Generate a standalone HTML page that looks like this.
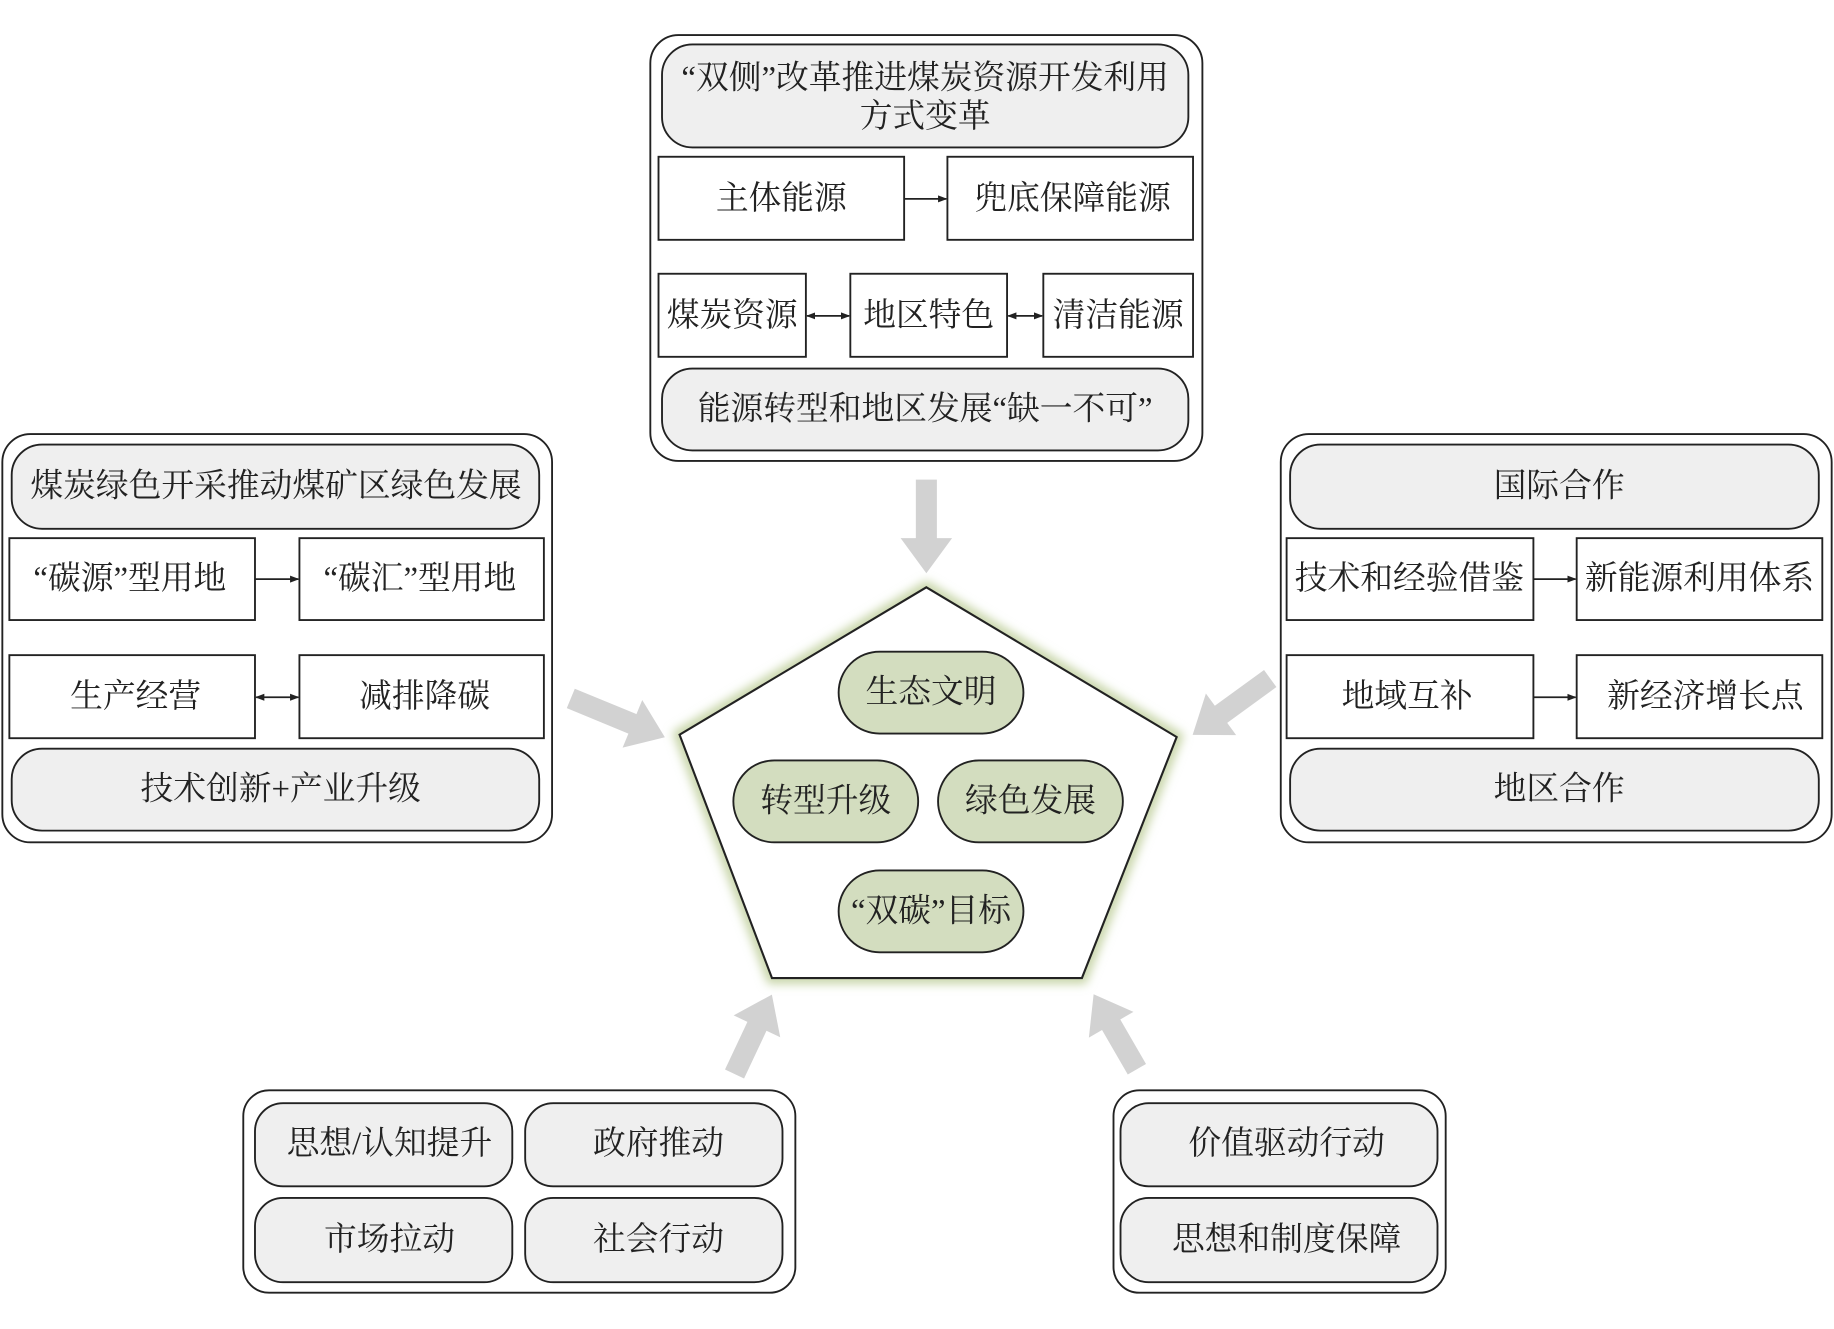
<!DOCTYPE html>
<html><head><meta charset="utf-8"><style>
html,body{margin:0;padding:0;background:#fff;}
svg{display:block;}
text{font-family:"Liberation Serif","Noto Serif CJK SC",serif;font-size:28px;fill:#222;text-anchor:middle;dominant-baseline:central;}
.o{fill:#fff;stroke:#222;stroke-width:1.6;}
.p{fill:#efefef;stroke:#222;stroke-width:1.6;}
.r{fill:#fff;stroke:#222;stroke-width:1.6;}
.g{fill:#d3ddbf;stroke:#222;stroke-width:1.6;}
.ar{fill:#d2d2d2;}
.ln{stroke:#222;stroke-width:1.5;fill:none;}
</style></head><body>
<svg width="1834" height="1329" viewBox="0 0 1568 1136" preserveAspectRatio="none" xmlns="http://www.w3.org/2000/svg">
<defs>
<marker id="ah" markerWidth="8" markerHeight="8" refX="7" refY="4" orient="auto" markerUnits="userSpaceOnUse"><path d="M0,1 L8,4 L0,7 Z" fill="#222"/></marker>
<marker id="at" markerWidth="8" markerHeight="8" refX="1" refY="4" orient="auto" markerUnits="userSpaceOnUse"><path d="M8,1 L0,4 L8,7 Z" fill="#222"/></marker>
<filter id="gl" x="-20%" y="-20%" width="140%" height="140%"><feGaussianBlur stdDeviation="4"/></filter>
</defs>

<!-- Top group -->
<rect class="o" x="556" y="30" width="472" height="364" rx="24"/>
<rect class="p" x="566" y="38" width="450" height="88" rx="26"/>
<text x="791" y="67">“双侧”改革推进煤炭资源开发利用</text>
<text x="791" y="100">方式变革</text>
<rect class="r" x="563" y="134" width="210" height="71"/><text x="668" y="170">主体能源</text>
<rect class="r" x="810" y="134" width="210" height="71"/><text x="917" y="170">兜底保障能源</text>
<line class="ln" x1="773" y1="170" x2="809" y2="170" marker-end="url(#ah)"/>
<rect class="r" x="563" y="234" width="126" height="71"/><text x="626" y="270">煤炭资源</text>
<rect class="r" x="727" y="234" width="134" height="71"/><text x="794" y="270">地区特色</text>
<rect class="r" x="892" y="234" width="128" height="71"/><text x="956" y="270">清洁能源</text>
<line class="ln" x1="690" y1="270" x2="726" y2="270" marker-end="url(#ah)" marker-start="url(#at)"/>
<line class="ln" x1="862" y1="270" x2="891" y2="270" marker-end="url(#ah)" marker-start="url(#at)"/>
<rect class="p" x="566" y="315" width="450" height="70" rx="26"/><text x="791" y="350">能源转型和地区发展“缺一不可”</text>

<!-- Left group -->
<rect class="o" x="2" y="371" width="470" height="349" rx="24"/>
<rect class="p" x="10" y="380" width="451" height="72" rx="26"/><text x="236" y="416">煤炭绿色开采推动煤矿区绿色发展</text>
<rect class="r" x="8" y="460" width="210" height="70"/><text x="111" y="495">“碳源”型用地</text>
<rect class="r" x="256" y="460" width="209" height="70"/><text x="359" y="495">“碳汇”型用地</text>
<line class="ln" x1="218" y1="495" x2="255" y2="495" marker-end="url(#ah)"/>
<rect class="r" x="8" y="560" width="210" height="71"/><text x="116" y="596">生产经营</text>
<rect class="r" x="256" y="560" width="209" height="71"/><text x="363" y="596">减排降碳</text>
<line class="ln" x1="219" y1="596" x2="255" y2="596" marker-end="url(#ah)" marker-start="url(#at)"/>
<rect class="p" x="10" y="640" width="451" height="70" rx="26"/><text x="240" y="675">技术创新+产业升级</text>

<!-- Right group -->
<rect class="o" x="1095" y="371" width="471" height="349" rx="24"/>
<rect class="p" x="1103" y="380" width="452" height="72" rx="26"/><text x="1333" y="416">国际合作</text>
<rect class="r" x="1100" y="460" width="211" height="70"/><text x="1205" y="495">技术和经验借鉴</text>
<rect class="r" x="1348" y="460" width="210" height="70"/><text x="1453" y="495">新能源利用体系</text>
<line class="ln" x1="1311" y1="495" x2="1347" y2="495" marker-end="url(#ah)"/>
<rect class="r" x="1100" y="560" width="211" height="71"/><text x="1203" y="596">地域互补</text>
<rect class="r" x="1348" y="560" width="210" height="71"/><text x="1458" y="596">新经济增长点</text>
<line class="ln" x1="1311" y1="596" x2="1347" y2="596" marker-end="url(#ah)"/>
<rect class="p" x="1103" y="640" width="452" height="70" rx="26"/><text x="1333" y="675">地区合作</text>

<!-- Bottom-left -->
<rect class="o" x="208" y="932" width="472" height="173" rx="22"/>
<rect class="p" x="218" y="943" width="220" height="71" rx="24"/><text x="333" y="978">思想/认知提升</text>
<rect class="p" x="449" y="943" width="220" height="71" rx="24"/><text x="563" y="978">政府推动</text>
<rect class="p" x="218" y="1024" width="220" height="72" rx="24"/><text x="333" y="1060">市场拉动</text>
<rect class="p" x="449" y="1024" width="220" height="72" rx="24"/><text x="563" y="1060">社会行动</text>

<!-- Bottom-right -->
<rect class="o" x="952" y="932" width="284" height="173" rx="22"/>
<rect class="p" x="958" y="943" width="271" height="71" rx="24"/><text x="1100" y="978">价值驱动行动</text>
<rect class="p" x="958" y="1024" width="271" height="72" rx="24"/><text x="1100" y="1060">思想和制度保障</text>

<!-- Pentagon -->
<polygon points="792,502 1006,630 925,836 660,836 581,628" fill="none" stroke="#c6d4a6" stroke-width="10" filter="url(#gl)"/>
<polygon points="792,502 1006,630 925,836 660,836 581,628" fill="#fff" stroke="#222" stroke-width="1.8"/>
<rect class="g" x="717" y="557" width="158" height="70" rx="35"/><text x="796" y="592">生态文明</text>
<rect class="g" x="627" y="650" width="158" height="70" rx="35"/><text x="706" y="685">转型升级</text>
<rect class="g" x="802" y="650" width="158" height="70" rx="35"/><text x="881" y="685">绿色发展</text>
<rect class="g" x="717" y="744" width="158" height="70" rx="35"/><text x="796" y="779">“双碳”目标</text>

<!-- Gray arrows -->
<g transform="translate(792,410) rotate(90)"><polygon class="ar" points="0,-9 50,-9 50,-22 80,0 50,22 50,9 0,9"/></g>
<g transform="translate(488,597) rotate(22.4)"><polygon class="ar" points="0,-9 57,-9 57,-22 87,0 57,22 57,9 0,9"/></g>
<g transform="translate(1086,580) rotate(144)"><polygon class="ar" points="0,-9 52,-9 52,-22 82,0 52,22 52,9 0,9"/></g>
<g transform="translate(628,918) rotate(-64.8)"><polygon class="ar" points="0,-9 45,-9 45,-22 75,0 45,22 45,9 0,9"/></g>
<g transform="translate(972,914) rotate(-120)"><polygon class="ar" points="0,-9 44,-9 44,-22 74,0 44,22 44,9 0,9"/></g>
</svg>
</body></html>
